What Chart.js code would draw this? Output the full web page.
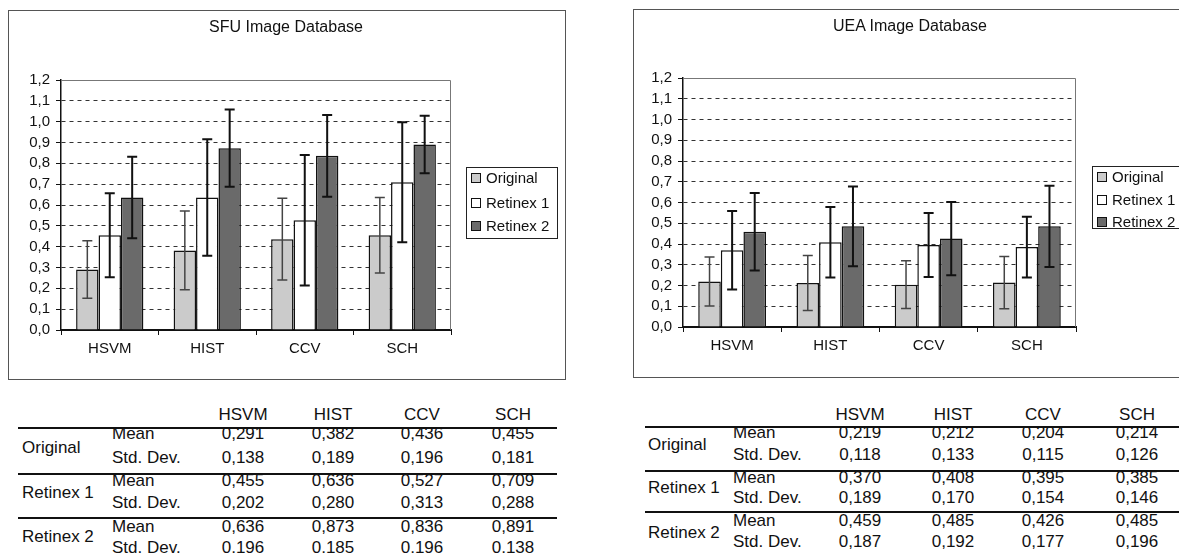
<!DOCTYPE html>
<html>
<head>
<meta charset="utf-8">
<script src="https://cdn.jsdelivr.net/npm/chart.js@4.4.1/dist/chart.umd.min.js"></script>
<style>
body{margin:0;width:1179px;height:553px;overflow:hidden;background:#fff;position:relative;
 font-family:"Liberation Sans",Arial,sans-serif;color:#111}
.frame{position:absolute;border:1px solid #555;background:#fff}
.title{position:absolute;font-size:16px;white-space:nowrap;transform:translate(-50%,-50%)}
.legend{position:absolute;border:1px solid #222;background:#fff;font-size:15px}
.legend .item{position:absolute;left:0;height:24px;line-height:24px;white-space:nowrap}
.legend .sw{display:inline-block;width:8px;height:8px;border:1px solid #111;vertical-align:middle;margin-right:5px;margin-top:-3px}
.t{position:absolute;font-size:17px;white-space:nowrap;transform:translateY(-50%)}
.c{transform:translate(-50%,-50%)}
.rule{position:absolute;height:2px;background:#111}
</style>
</head>
<body>

<div class="frame" style="left:8px;top:10px;width:556px;height:368px"><canvas id="sfu" width="556" height="368"></canvas></div>
<div class="frame" style="left:633px;top:9px;width:552px;height:367px"><canvas id="uea" width="552" height="367"></canvas></div>

<div class="title" style="left:286px;top:27px">SFU Image Database</div>
<div class="title" style="left:910px;top:26px">UEA Image Database</div>

<div class="legend" id="legSfu" style="left:466px;top:167px;width:90px;height:70px"></div>
<div class="legend" id="legUea" style="left:1092px;top:166px;width:100px;height:61px"></div>

<div id="tables"></div>

<script>
// categories and series
var categories = ["HSVM", "HIST", "CCV", "SCH"];
var seriesNames = ["Original", "Retinex 1", "Retinex 2"];
var seriesColors = ["#cbcbcb", "#ffffff", "#6a6a6a"];

// SFU Image Database
var sfuOriginalMean = [0.291, 0.382, 0.436, 0.455];
var sfuOriginalSd   = [0.138, 0.189, 0.196, 0.181];
var sfuRetinex1Mean = [0.455, 0.636, 0.527, 0.709];
var sfuRetinex1Sd   = [0.202, 0.280, 0.313, 0.288];
var sfuRetinex2Mean = [0.636, 0.873, 0.836, 0.891];
var sfuRetinex2Sd   = [0.196, 0.185, 0.196, 0.138];

// UEA Image Database
var ueaOriginalMean = [0.219, 0.212, 0.204, 0.214];
var ueaOriginalSd   = [0.118, 0.133, 0.115, 0.126];
var ueaRetinex1Mean = [0.370, 0.408, 0.395, 0.385];
var ueaRetinex1Sd   = [0.189, 0.170, 0.154, 0.146];
var ueaRetinex2Mean = [0.459, 0.485, 0.426, 0.485];
var ueaRetinex2Sd   = [0.187, 0.192, 0.177, 0.196];

var fmt = function(v, d){ return v.toFixed(d).replace(".", ","); };

Chart.defaults.font.family = '"Liberation Sans", Arial, sans-serif';
Chart.defaults.color = "#111";

// mean +/- std. dev. whiskers
var errorBars = {
 id: "errorBars",
 afterDatasetsDraw: function(chart){
  var ctx = chart.ctx, y = chart.scales.y;
  chart.data.datasets.forEach(function(ds, i){
   chart.getDatasetMeta(i).data.forEach(function(bar, j){
    var top = y.getPixelForValue(ds.data[j] + ds.sd[j]);
    var bot = y.getPixelForValue(ds.data[j] - ds.sd[j]);
    ctx.save();
    ctx.strokeStyle = ds.errColor;
    ctx.lineWidth = ds.errWidth;
    ctx.beginPath();
    ctx.moveTo(bar.x, top); ctx.lineTo(bar.x, bot);
    ctx.moveTo(bar.x - 5, top); ctx.lineTo(bar.x + 5, top);
    ctx.moveTo(bar.x - 5, bot); ctx.lineTo(bar.x + 5, bot);
    ctx.stroke();
    ctx.restore();
   });
  });
 }
};

// grey top/right edge of the plot area
var plotBox = {
 id: "plotBox",
 beforeDatasetsDraw: function(chart){
  var a = chart.chartArea, ctx = chart.ctx;
  ctx.save();
  ctx.strokeStyle = "#777";
  ctx.lineWidth = 1;
  ctx.beginPath();
  ctx.moveTo(a.left, a.top + 0.5); ctx.lineTo(a.right - 0.5, a.top + 0.5); ctx.lineTo(a.right - 0.5, a.bottom);
  ctx.stroke();
  ctx.restore();
 }
};

function makeChart(id, means, sds, yWidth, padTop, padRight, padBottom){
 var datasets = seriesNames.map(function(name, i){
  return {
   label: name,
   data: means[i],
   sd: sds[i],
   backgroundColor: seriesColors[i],
   borderColor: "#111",
   borderWidth: 1.5,
   errColor: i === 0 ? "#444" : "#111",
   errWidth: i === 0 ? 1.5 : 2,
   categoryPercentage: 0.69,
   barPercentage: 1.0
  };
 });
 new Chart(document.getElementById(id), {
  type: "bar",
  data: { labels: categories, datasets: datasets },
  options: {
   responsive: false,
   animation: false,
   layout: { padding: { left: 0, right: padRight, bottom: padBottom, top: padTop } },
   plugins: {
    legend: { display: false },
    tooltip: { enabled: false }
   },
   scales: {
    x: {
     ticks: { color: "#111", font: { size: 15 }, padding: 5 },
     grid: { drawOnChartArea: false, tickLength: 5, color: "#111" },
     border: { color: "#111", width: 2 },
     afterFit: function(s){ s.height = 40; }
    },
    y: {
     min: 0, max: 1.2,
     ticks: { stepSize: 0.1, autoSkip: false, color: "#111", font: { size: 15 }, padding: 6,
      callback: function(v){ return fmt(v, 1); } },
     grid: {
      color: function(c){ return (c.tick && (c.tick.value < 0.01 || c.tick.value > 1.19)) ? "rgba(0,0,0,0)" : "#333"; },
      tickColor: "#111", tickLength: 5, lineWidth: 1
     },
     border: { color: "#111", width: 1.5, dash: [4, 4] },
     afterFit: function(s){ s.width = yWidth; }
    }
   }
  },
  plugins: [plotBox, errorBars]
 });
}

makeChart("sfu",
 [sfuOriginalMean, sfuRetinex1Mean, sfuRetinex2Mean],
 [sfuOriginalSd, sfuRetinex1Sd, sfuRetinex2Sd], 52, 69, 114, 9);
makeChart("uea",
 [ueaOriginalMean, ueaRetinex1Mean, ueaRetinex2Mean],
 [ueaOriginalSd, ueaRetinex1Sd, ueaRetinex2Sd], 49, 68, 110, 10);

// legends
function makeLegend(id, rows, swLeft){
 var box = document.getElementById(id);
 seriesNames.forEach(function(name, i){
  var d = document.createElement("div");
  d.className = "item";
  d.style.top = (rows[i] - 12) + "px";
  d.style.left = swLeft + "px";
  d.innerHTML = '<span class="sw" style="background:' + seriesColors[i] + '"></span>' + name;
  box.appendChild(d);
 });
}
makeLegend("legSfu", [10, 35, 58], 4);
makeLegend("legUea", [10, 33, 55], 4);

// tables under the charts
function makeTable(t){
 var root = document.getElementById("tables");
 function add(text, x, y, cls){
  var s = document.createElement("div");
  s.className = "t" + (cls ? " " + cls : "");
  s.style.left = x + "px"; s.style.top = y + "px";
  s.textContent = text;
  root.appendChild(s);
 }
 categories.forEach(function(c, k){ add(c, t.cols[k], 415, "c"); });
 t.lines.forEach(function(y){
  var r = document.createElement("div");
  r.className = "rule";
  r.style.left = t.x0 + "px"; r.style.width = (t.x1 - t.x0) + "px"; r.style.top = (y - 1) + "px";
  root.appendChild(r);
 });
 seriesNames.forEach(function(name, i){
  add(name, t.labelX, t.labelY[i]);
  add("Mean", t.statX, t.meanY[i]);
  add("Std. Dev.", t.statX, t.sdY[i]);
  categories.forEach(function(c, k){
   add(fmt(t.means[i][k], 3), t.cols[k], t.meanY[i], "c");
   add(fmt(t.sds[i][k], 3), t.cols[k], t.sdY[i], "c");
  });
 });
}

makeTable({
 x0: 18, x1: 557, lines: [428, 474, 518],
 cols: [243, 333, 422, 513],
 labelX: 22, labelY: [448, 493, 537],
 statX: 112, meanY: [434, 481, 527], sdY: [458, 503, 548],
 means: [sfuOriginalMean, sfuRetinex1Mean, sfuRetinex2Mean],
 sds: [sfuOriginalSd, sfuRetinex1Sd, sfuRetinex2Sd]
});
makeTable({
 x0: 645, x1: 1179, lines: [427, 471, 512],
 cols: [860, 953, 1043, 1137],
 labelX: 648, labelY: [445, 488, 533],
 statX: 733, meanY: [433, 478, 521], sdY: [455, 498, 542],
 means: [ueaOriginalMean, ueaRetinex1Mean, ueaRetinex2Mean],
 sds: [ueaOriginalSd, ueaRetinex1Sd, ueaRetinex2Sd]
});
</script>
</body>
</html>
